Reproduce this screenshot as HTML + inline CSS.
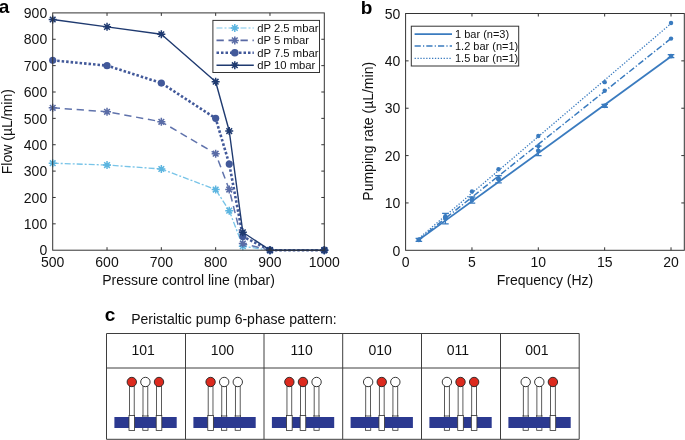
<!DOCTYPE html>
<html><head><meta charset="utf-8"><title>Figure</title>
<style>html,body{margin:0;padding:0;background:#fff;}body{width:685px;height:440px;position:relative;overflow:hidden;font-family:"Liberation Sans", sans-serif;}</style>
</head><body>
<svg width="685" height="440" viewBox="0 0 685 440" style="position:absolute;left:0;top:0;will-change:transform"><rect width="685" height="440" fill="#fff"/><g><path d="M52.70,163.19L107.02,165.04L161.34,168.99L215.66,189.56L229.24,210.65L242.82,246.24L269.98,250.20L324.30,250.20" stroke="#78c4e8" stroke-width="1.35" fill="none" stroke-dasharray="6 2 2 2" stroke-linecap="butt" stroke-linejoin="round"/><path d="M48.70,163.19L56.70,163.19M49.87,160.36L55.53,166.02M52.70,159.19L52.70,167.19M55.53,160.36L49.87,166.02" stroke="#5cb5e0" stroke-width="1.5" fill="none"/><path d="M103.02,165.04L111.02,165.04M104.19,162.21L109.85,167.86M107.02,161.04L107.02,169.04M109.85,162.21L104.19,167.86" stroke="#5cb5e0" stroke-width="1.5" fill="none"/><path d="M157.34,168.99L165.34,168.99M158.51,166.16L164.17,171.82M161.34,164.99L161.34,172.99M164.17,166.16L158.51,171.82" stroke="#5cb5e0" stroke-width="1.5" fill="none"/><path d="M211.66,189.56L219.66,189.56M212.83,186.73L218.49,192.39M215.66,185.56L215.66,193.56M218.49,186.73L212.83,192.39" stroke="#5cb5e0" stroke-width="1.5" fill="none"/><path d="M225.24,210.65L233.24,210.65M226.41,207.82L232.07,213.48M229.24,206.65L229.24,214.65M232.07,207.82L226.41,213.48" stroke="#5cb5e0" stroke-width="1.5" fill="none"/><path d="M238.82,246.24L246.82,246.24M239.99,243.42L245.65,249.07M242.82,242.24L242.82,250.24M245.65,243.42L239.99,249.07" stroke="#5cb5e0" stroke-width="1.5" fill="none"/><path d="M265.98,250.20L273.98,250.20M267.15,247.37L272.81,253.03M269.98,246.20L269.98,254.20M272.81,247.37L267.15,253.03" stroke="#5cb5e0" stroke-width="1.5" fill="none"/><path d="M320.30,250.20L328.30,250.20M321.47,247.37L327.13,253.03M324.30,246.20L324.30,254.20M327.13,247.37L321.47,253.03" stroke="#5cb5e0" stroke-width="1.5" fill="none"/><path d="M52.70,107.82L107.02,111.78L161.34,121.79L215.66,153.70L229.24,189.56L242.82,243.61L269.98,250.20L324.30,250.20" stroke="#6073ac" stroke-width="1.5" fill="none" stroke-dasharray="7.3 4.7" stroke-linecap="butt" stroke-linejoin="round"/><path d="M48.70,107.82L56.70,107.82M49.87,104.99L55.53,110.65M52.70,103.82L52.70,111.82M55.53,104.99L49.87,110.65" stroke="#5a6ca6" stroke-width="1.5" fill="none"/><path d="M103.02,111.78L111.02,111.78M104.19,108.95L109.85,114.60M107.02,107.78L107.02,115.78M109.85,108.95L104.19,114.60" stroke="#5a6ca6" stroke-width="1.5" fill="none"/><path d="M157.34,121.79L165.34,121.79M158.51,118.97L164.17,124.62M161.34,117.79L161.34,125.79M164.17,118.97L158.51,124.62" stroke="#5a6ca6" stroke-width="1.5" fill="none"/><path d="M211.66,153.70L219.66,153.70M212.83,150.87L218.49,156.53M215.66,149.70L215.66,157.70M218.49,150.87L212.83,156.53" stroke="#5a6ca6" stroke-width="1.5" fill="none"/><path d="M225.24,189.56L233.24,189.56M226.41,186.73L232.07,192.39M229.24,185.56L229.24,193.56M232.07,186.73L226.41,192.39" stroke="#5a6ca6" stroke-width="1.5" fill="none"/><path d="M238.82,243.61L246.82,243.61M239.99,240.78L245.65,246.44M242.82,239.61L242.82,247.61M245.65,240.78L239.99,246.44" stroke="#5a6ca6" stroke-width="1.5" fill="none"/><path d="M265.98,250.20L273.98,250.20M267.15,247.37L272.81,253.03M269.98,246.20L269.98,254.20M272.81,247.37L267.15,253.03" stroke="#5a6ca6" stroke-width="1.5" fill="none"/><path d="M320.30,250.20L328.30,250.20M321.47,247.37L327.13,253.03M324.30,246.20L324.30,254.20M327.13,247.37L321.47,253.03" stroke="#5a6ca6" stroke-width="1.5" fill="none"/><path d="M52.70,60.36L107.02,65.63L161.34,83.04L215.66,118.37L229.24,163.98L242.82,236.49L269.98,250.20L324.30,250.20" stroke="#42599a" stroke-width="2.6" fill="none" stroke-dasharray="2.5 2" stroke-linecap="butt" stroke-linejoin="round"/><circle cx="52.70" cy="60.36" r="3.6" fill="#42599a"/><circle cx="107.02" cy="65.63" r="3.6" fill="#42599a"/><circle cx="161.34" cy="83.04" r="3.6" fill="#42599a"/><circle cx="215.66" cy="118.37" r="3.6" fill="#42599a"/><circle cx="229.24" cy="163.98" r="3.6" fill="#42599a"/><circle cx="242.82" cy="236.49" r="3.6" fill="#42599a"/><circle cx="269.98" cy="250.20" r="3.6" fill="#42599a"/><circle cx="324.30" cy="250.20" r="3.6" fill="#42599a"/><path d="M52.70,19.49L107.02,26.87L161.34,34.26L215.66,81.72L229.24,131.02L242.82,232.27L269.98,250.20L324.30,250.20" stroke="#1f3a70" stroke-width="1.4" fill="none" stroke-linecap="butt" stroke-linejoin="round"/><path d="M48.70,19.49L56.70,19.49M49.87,16.66L55.53,22.32M52.70,15.49L52.70,23.49M55.53,16.66L49.87,22.32" stroke="#1f3a70" stroke-width="1.5" fill="none"/><path d="M103.02,26.87L111.02,26.87M104.19,24.05L109.85,29.70M107.02,22.87L107.02,30.87M109.85,24.05L104.19,29.70" stroke="#1f3a70" stroke-width="1.5" fill="none"/><path d="M157.34,34.26L165.34,34.26M158.51,31.43L164.17,37.09M161.34,30.26L161.34,38.26M164.17,31.43L158.51,37.09" stroke="#1f3a70" stroke-width="1.5" fill="none"/><path d="M211.66,81.72L219.66,81.72M212.83,78.89L218.49,84.55M215.66,77.72L215.66,85.72M218.49,78.89L212.83,84.55" stroke="#1f3a70" stroke-width="1.5" fill="none"/><path d="M225.24,131.02L233.24,131.02M226.41,128.19L232.07,133.85M229.24,127.02L229.24,135.02M232.07,128.19L226.41,133.85" stroke="#1f3a70" stroke-width="1.5" fill="none"/><path d="M238.82,232.27L246.82,232.27M239.99,229.44L245.65,235.10M242.82,228.27L242.82,236.27M245.65,229.44L239.99,235.10" stroke="#1f3a70" stroke-width="1.5" fill="none"/><path d="M265.98,250.20L273.98,250.20M267.15,247.37L272.81,253.03M269.98,246.20L269.98,254.20M272.81,247.37L267.15,253.03" stroke="#1f3a70" stroke-width="1.5" fill="none"/><path d="M320.30,250.20L328.30,250.20M321.47,247.37L327.13,253.03M324.30,246.20L324.30,254.20M327.13,247.37L321.47,253.03" stroke="#1f3a70" stroke-width="1.5" fill="none"/></g><rect x="52.7" y="12.9" width="271.60" height="237.30" fill="none" stroke="#333333" stroke-width="1"/><path d="M107.02,250.2v-3M107.02,12.9v3M161.34,250.2v-3M161.34,12.9v3M215.66,250.2v-3M215.66,12.9v3M269.98,250.2v-3M269.98,12.9v3M52.7,223.83h3M324.3,223.83h-3M52.7,197.47h3M324.3,197.47h-3M52.7,171.10h3M324.3,171.10h-3M52.7,144.73h3M324.3,144.73h-3M52.7,118.37h3M324.3,118.37h-3M52.7,92.00h3M324.3,92.00h-3M52.7,65.63h3M324.3,65.63h-3M52.7,39.27h3M324.3,39.27h-3" stroke="#333333" stroke-width="1" fill="none"/><g font-family='"Liberation Sans", sans-serif' font-size="14" fill="#111"><text x="52.70" y="267" text-anchor="middle">500</text><text x="107.02" y="267" text-anchor="middle">600</text><text x="161.34" y="267" text-anchor="middle">700</text><text x="215.66" y="267" text-anchor="middle">800</text><text x="269.98" y="267" text-anchor="middle">900</text><text x="324.30" y="267" text-anchor="middle">1000</text><text x="47.2" y="255.40" text-anchor="end">0</text><text x="47.2" y="229.03" text-anchor="end">100</text><text x="47.2" y="202.67" text-anchor="end">200</text><text x="47.2" y="176.30" text-anchor="end">300</text><text x="47.2" y="149.93" text-anchor="end">400</text><text x="47.2" y="123.57" text-anchor="end">500</text><text x="47.2" y="97.20" text-anchor="end">600</text><text x="47.2" y="70.83" text-anchor="end">700</text><text x="47.2" y="44.47" text-anchor="end">800</text><text x="47.2" y="18.10" text-anchor="end">900</text></g><text x="188.5" y="284.5" text-anchor="middle" font-family='"Liberation Sans", sans-serif' font-size="14" fill="#111">Pressure control line (mbar)</text><text transform="translate(12.2,131.7) rotate(-90)" text-anchor="middle" font-family='"Liberation Sans", sans-serif' font-size="14" fill="#111">Flow (µL/min)</text><rect x="212.9" y="20.4" width="106.60" height="52.10" fill="#fff" stroke="#333333" stroke-width="1"/><path d="M216.50,28.00L253.80,28.00" stroke="#7cc6ea" stroke-width="1.2" fill="none" stroke-dasharray="6 2 2 2" stroke-linecap="butt" stroke-linejoin="round"/><path d="M230.80,28.00L238.80,28.00M231.97,25.17L237.63,30.83M234.80,24.00L234.80,32.00M237.63,25.17L231.97,30.83" stroke="#5cb5e0" stroke-width="1.5" fill="none"/><text x="257.2" y="32.00" font-family='"Liberation Sans", sans-serif' font-size="11.3" fill="#111">dP 2.5 mbar</text><path d="M216.50,40.40L253.80,40.40" stroke="#5869a4" stroke-width="1.6" fill="none" stroke-dasharray="7.3 4.7" stroke-linecap="butt" stroke-linejoin="round"/><path d="M230.80,40.40L238.80,40.40M231.97,37.57L237.63,43.23M234.80,36.40L234.80,44.40M237.63,37.57L231.97,43.23" stroke="#5a6ca6" stroke-width="1.5" fill="none"/><text x="257.2" y="44.40" font-family='"Liberation Sans", sans-serif' font-size="11.3" fill="#111">dP 5 mbar</text><path d="M216.50,52.70L253.80,52.70" stroke="#42599a" stroke-width="2.6" fill="none" stroke-dasharray="2.5 2" stroke-linecap="butt" stroke-linejoin="round"/><circle cx="234.8" cy="52.7" r="3.8" fill="#42599a"/><text x="257.2" y="56.70" font-family='"Liberation Sans", sans-serif' font-size="11.3" fill="#111">dP 7.5 mbar</text><path d="M216.50,65.20L253.80,65.20" stroke="#1f3a70" stroke-width="1.4" fill="none" stroke-linecap="butt" stroke-linejoin="round"/><path d="M230.80,65.20L238.80,65.20M231.97,62.37L237.63,68.03M234.80,61.20L234.80,69.20M237.63,62.37L231.97,68.03" stroke="#1f3a70" stroke-width="1.5" fill="none"/><text x="257.2" y="69.20" font-family='"Liberation Sans", sans-serif' font-size="11.3" fill="#111">dP 10 mbar</text><g><path d="M418.87,239.88L671.03,56.60" stroke="#3a7bbf" stroke-width="1.8" fill="none" stroke-linecap="butt" stroke-linejoin="round"/><path d="M418.87,239.50L671.03,38.41" stroke="#3a7bbf" stroke-width="1.5" fill="none" stroke-dasharray="6.2 2.2 1.2 2.1" stroke-linecap="butt" stroke-linejoin="round"/><path d="M418.87,238.37L671.03,23.54" stroke="#3a7bbf" stroke-width="1.3" fill="none" stroke-dasharray="1.3 1.6" stroke-linecap="butt" stroke-linejoin="round"/><circle cx="418.87" cy="239.88" r="2.2" fill="#3a7bbf"/><circle cx="445.41" cy="217.15" r="2.2" fill="#3a7bbf"/><circle cx="471.96" cy="198.68" r="2.2" fill="#3a7bbf"/><circle cx="498.50" cy="178.31" r="2.2" fill="#3a7bbf"/><circle cx="538.31" cy="146.11" r="2.2" fill="#3a7bbf"/><circle cx="604.67" cy="90.70" r="2.2" fill="#3a7bbf"/><circle cx="671.03" cy="38.60" r="2.2" fill="#3a7bbf"/><circle cx="418.87" cy="239.88" r="2.2" fill="#3a7bbf"/><circle cx="445.41" cy="216.20" r="2.2" fill="#3a7bbf"/><circle cx="471.96" cy="191.57" r="2.2" fill="#3a7bbf"/><circle cx="498.50" cy="169.31" r="2.2" fill="#3a7bbf"/><circle cx="538.31" cy="135.93" r="2.2" fill="#3a7bbf"/><circle cx="604.67" cy="82.17" r="2.2" fill="#3a7bbf"/><circle cx="671.03" cy="22.97" r="2.2" fill="#3a7bbf"/><path d="M418.87,238.46V241.30M415.57,238.46h6.6M415.57,241.30h6.6" stroke="#3a7bbf" stroke-width="1.3" fill="none"/><circle cx="418.87" cy="239.88" r="2.4" fill="#3a7bbf"/><path d="M445.41,213.36V223.78M442.11,213.36h6.6M442.11,223.78h6.6" stroke="#3a7bbf" stroke-width="1.3" fill="none"/><circle cx="445.41" cy="218.57" r="2.4" fill="#3a7bbf"/><path d="M471.96,197.02V203.18M468.66,197.02h6.6M468.66,203.18h6.6" stroke="#3a7bbf" stroke-width="1.3" fill="none"/><circle cx="471.96" cy="200.10" r="2.4" fill="#3a7bbf"/><path d="M498.50,175.71V182.81M495.20,175.71h6.6M495.20,182.81h6.6" stroke="#3a7bbf" stroke-width="1.3" fill="none"/><circle cx="498.50" cy="179.26" r="2.4" fill="#3a7bbf"/><path d="M538.31,146.11V155.58M535.01,146.11h6.6M535.01,155.58h6.6" stroke="#3a7bbf" stroke-width="1.3" fill="none"/><circle cx="538.31" cy="150.84" r="2.4" fill="#3a7bbf"/><path d="M604.67,104.43V107.27M601.37,104.43h6.6M601.37,107.27h6.6" stroke="#3a7bbf" stroke-width="1.3" fill="none"/><circle cx="604.67" cy="105.85" r="2.4" fill="#3a7bbf"/><path d="M671.03,54.70V57.54M667.73,54.70h6.6M667.73,57.54h6.6" stroke="#3a7bbf" stroke-width="1.3" fill="none"/><circle cx="671.03" cy="56.12" r="2.4" fill="#3a7bbf"/></g><rect x="405.6" y="13.5" width="278.70" height="236.80" fill="none" stroke="#333333" stroke-width="1"/><path d="M471.96,250.3v-3M471.96,13.5v3M538.31,250.3v-3M538.31,13.5v3M604.67,250.3v-3M604.67,13.5v3M671.03,250.3v-3M671.03,13.5v3M405.6,202.94h3M684.3,202.94h-3M405.6,155.58h3M684.3,155.58h-3M405.6,108.22h3M684.3,108.22h-3M405.6,60.86h3M684.3,60.86h-3" stroke="#333333" stroke-width="1" fill="none"/><g font-family='"Liberation Sans", sans-serif' font-size="14" fill="#111"><text x="405.60" y="267" text-anchor="middle">0</text><text x="471.96" y="267" text-anchor="middle">5</text><text x="538.31" y="267" text-anchor="middle">10</text><text x="604.67" y="267" text-anchor="middle">15</text><text x="671.03" y="267" text-anchor="middle">20</text><text x="400.4" y="255.50" text-anchor="end">0</text><text x="400.4" y="208.14" text-anchor="end">10</text><text x="400.4" y="160.78" text-anchor="end">20</text><text x="400.4" y="113.42" text-anchor="end">30</text><text x="400.4" y="66.06" text-anchor="end">40</text><text x="400.4" y="18.70" text-anchor="end">50</text></g><text x="545" y="284.7" text-anchor="middle" font-family='"Liberation Sans", sans-serif' font-size="14" fill="#111">Frequency (Hz)</text><text transform="translate(373.4,131.3) rotate(-90)" text-anchor="middle" font-family='"Liberation Sans", sans-serif' font-size="14" fill="#111">Pumping rate (µL/min)</text><rect x="411.3" y="26.2" width="107.40" height="39.80" fill="#fff" stroke="#333333" stroke-width="1"/><path d="M414.60,34.20L452.00,34.20" stroke="#3a7bbf" stroke-width="1.8" fill="none" stroke-linecap="butt" stroke-linejoin="round"/><text x="455" y="38.20" font-family='"Liberation Sans", sans-serif' font-size="11" fill="#111">1 bar (n=3)</text><path d="M414.60,46.10L452.00,46.10" stroke="#3a7bbf" stroke-width="1.5" fill="none" stroke-dasharray="6.2 2.2 1.2 2.1" stroke-linecap="butt" stroke-linejoin="round"/><text x="455" y="50.10" font-family='"Liberation Sans", sans-serif' font-size="11" fill="#111">1.2 bar (n=1)</text><path d="M414.60,58.30L452.00,58.30" stroke="#3a7bbf" stroke-width="1.3" fill="none" stroke-dasharray="1.3 1.6" stroke-linecap="butt" stroke-linejoin="round"/><text x="455" y="62.30" font-family='"Liberation Sans", sans-serif' font-size="11" fill="#111">1.5 bar (n=1)</text><text x="-1.2" y="13.1" font-family='"Liberation Sans", sans-serif' font-size="19" font-weight="bold" fill="#000">a</text><text x="360.8" y="13.6" font-family='"Liberation Sans", sans-serif' font-size="19" font-weight="bold" fill="#000">b</text><text x="104.8" y="320.6" font-family='"Liberation Sans", sans-serif' font-size="19" font-weight="bold" fill="#000">c</text><text x="131.2" y="323.9" font-family='"Liberation Sans", sans-serif' font-size="14" fill="#111">Peristaltic pump 6-phase pattern:</text><text x="143.10" y="355.2" text-anchor="middle" font-family='"Liberation Sans", sans-serif' font-size="14" fill="#111">101</text><rect x="142.80" y="415.5" width="5.2" height="14.8" fill="#fff" stroke="#333" stroke-width="0.8"/><rect x="114.40" y="417" width="62.30" height="11" fill="#2b3990"/><rect x="129.40" y="386" width="4.8" height="30" fill="#fff" stroke="#333" stroke-width="0.8"/><rect x="129.00" y="415.4" width="5.6" height="15" fill="#fff" stroke="#333" stroke-width="0.8"/><circle cx="131.80" cy="382" r="4.7" fill="#dc2a1e" stroke="#222" stroke-width="0.9"/><rect x="143.00" y="386" width="4.8" height="30" fill="#fff" stroke="#333" stroke-width="0.8"/><circle cx="145.40" cy="382" r="4.7" fill="#fff" stroke="#222" stroke-width="0.9"/><rect x="156.60" y="386" width="4.8" height="30" fill="#fff" stroke="#333" stroke-width="0.8"/><rect x="156.20" y="415.4" width="5.6" height="15" fill="#fff" stroke="#333" stroke-width="0.8"/><circle cx="159.00" cy="382" r="4.7" fill="#dc2a1e" stroke="#222" stroke-width="0.9"/><text x="222.45" y="355.2" text-anchor="middle" font-family='"Liberation Sans", sans-serif' font-size="14" fill="#111">100</text><rect x="221.58" y="415.5" width="5.2" height="14.8" fill="#fff" stroke="#333" stroke-width="0.8"/><rect x="235.18" y="415.5" width="5.2" height="14.8" fill="#fff" stroke="#333" stroke-width="0.8"/><rect x="193.40" y="417" width="62.30" height="11" fill="#2b3990"/><rect x="208.18" y="386" width="4.8" height="30" fill="#fff" stroke="#333" stroke-width="0.8"/><rect x="207.78" y="415.4" width="5.6" height="15" fill="#fff" stroke="#333" stroke-width="0.8"/><circle cx="210.58" cy="382" r="4.7" fill="#dc2a1e" stroke="#222" stroke-width="0.9"/><rect x="221.78" y="386" width="4.8" height="30" fill="#fff" stroke="#333" stroke-width="0.8"/><circle cx="224.18" cy="382" r="4.7" fill="#fff" stroke="#222" stroke-width="0.9"/><rect x="235.38" y="386" width="4.8" height="30" fill="#fff" stroke="#333" stroke-width="0.8"/><circle cx="237.78" cy="382" r="4.7" fill="#fff" stroke="#222" stroke-width="0.9"/><text x="301.75" y="355.2" text-anchor="middle" font-family='"Liberation Sans", sans-serif' font-size="14" fill="#111">110</text><rect x="313.96" y="415.5" width="5.2" height="14.8" fill="#fff" stroke="#333" stroke-width="0.8"/><rect x="271.90" y="417" width="62.30" height="11" fill="#2b3990"/><rect x="286.96" y="386" width="4.8" height="30" fill="#fff" stroke="#333" stroke-width="0.8"/><rect x="286.56" y="415.4" width="5.6" height="15" fill="#fff" stroke="#333" stroke-width="0.8"/><circle cx="289.36" cy="382" r="4.7" fill="#dc2a1e" stroke="#222" stroke-width="0.9"/><rect x="300.56" y="386" width="4.8" height="30" fill="#fff" stroke="#333" stroke-width="0.8"/><rect x="300.16" y="415.4" width="5.6" height="15" fill="#fff" stroke="#333" stroke-width="0.8"/><circle cx="302.96" cy="382" r="4.7" fill="#dc2a1e" stroke="#222" stroke-width="0.9"/><rect x="314.16" y="386" width="4.8" height="30" fill="#fff" stroke="#333" stroke-width="0.8"/><circle cx="316.56" cy="382" r="4.7" fill="#fff" stroke="#222" stroke-width="0.9"/><text x="380.10" y="355.2" text-anchor="middle" font-family='"Liberation Sans", sans-serif' font-size="14" fill="#111">010</text><rect x="365.54" y="415.5" width="5.2" height="14.8" fill="#fff" stroke="#333" stroke-width="0.8"/><rect x="392.74" y="415.5" width="5.2" height="14.8" fill="#fff" stroke="#333" stroke-width="0.8"/><rect x="350.60" y="417" width="62.30" height="11" fill="#2b3990"/><rect x="365.74" y="386" width="4.8" height="30" fill="#fff" stroke="#333" stroke-width="0.8"/><circle cx="368.14" cy="382" r="4.7" fill="#fff" stroke="#222" stroke-width="0.9"/><rect x="379.34" y="386" width="4.8" height="30" fill="#fff" stroke="#333" stroke-width="0.8"/><rect x="378.94" y="415.4" width="5.6" height="15" fill="#fff" stroke="#333" stroke-width="0.8"/><circle cx="381.74" cy="382" r="4.7" fill="#dc2a1e" stroke="#222" stroke-width="0.9"/><rect x="392.94" y="386" width="4.8" height="30" fill="#fff" stroke="#333" stroke-width="0.8"/><circle cx="395.34" cy="382" r="4.7" fill="#fff" stroke="#222" stroke-width="0.9"/><text x="457.85" y="355.2" text-anchor="middle" font-family='"Liberation Sans", sans-serif' font-size="14" fill="#111">011</text><rect x="444.32" y="415.5" width="5.2" height="14.8" fill="#fff" stroke="#333" stroke-width="0.8"/><rect x="429.40" y="417" width="62.30" height="11" fill="#2b3990"/><rect x="444.52" y="386" width="4.8" height="30" fill="#fff" stroke="#333" stroke-width="0.8"/><circle cx="446.92" cy="382" r="4.7" fill="#fff" stroke="#222" stroke-width="0.9"/><rect x="458.12" y="386" width="4.8" height="30" fill="#fff" stroke="#333" stroke-width="0.8"/><rect x="457.72" y="415.4" width="5.6" height="15" fill="#fff" stroke="#333" stroke-width="0.8"/><circle cx="460.52" cy="382" r="4.7" fill="#dc2a1e" stroke="#222" stroke-width="0.9"/><rect x="471.72" y="386" width="4.8" height="30" fill="#fff" stroke="#333" stroke-width="0.8"/><rect x="471.32" y="415.4" width="5.6" height="15" fill="#fff" stroke="#333" stroke-width="0.8"/><circle cx="474.12" cy="382" r="4.7" fill="#dc2a1e" stroke="#222" stroke-width="0.9"/><text x="536.85" y="355.2" text-anchor="middle" font-family='"Liberation Sans", sans-serif' font-size="14" fill="#111">001</text><rect x="523.10" y="415.5" width="5.2" height="14.8" fill="#fff" stroke="#333" stroke-width="0.8"/><rect x="536.70" y="415.5" width="5.2" height="14.8" fill="#fff" stroke="#333" stroke-width="0.8"/><rect x="508.40" y="417" width="62.30" height="11" fill="#2b3990"/><rect x="523.30" y="386" width="4.8" height="30" fill="#fff" stroke="#333" stroke-width="0.8"/><circle cx="525.70" cy="382" r="4.7" fill="#fff" stroke="#222" stroke-width="0.9"/><rect x="536.90" y="386" width="4.8" height="30" fill="#fff" stroke="#333" stroke-width="0.8"/><circle cx="539.30" cy="382" r="4.7" fill="#fff" stroke="#222" stroke-width="0.9"/><rect x="550.50" y="386" width="4.8" height="30" fill="#fff" stroke="#333" stroke-width="0.8"/><rect x="550.10" y="415.4" width="5.6" height="15" fill="#fff" stroke="#333" stroke-width="0.8"/><circle cx="552.90" cy="382" r="4.7" fill="#dc2a1e" stroke="#222" stroke-width="0.9"/><path d="M106.5,333.5H579.2V439.3H106.5ZM106.5,368.0H579.2M185.50,333.5V439.3M264.00,333.5V439.3M342.70,333.5V439.3M421.50,333.5V439.3M500.50,333.5V439.3" stroke="#3e3e3e" stroke-width="1" fill="none"/></svg>
</body></html>
